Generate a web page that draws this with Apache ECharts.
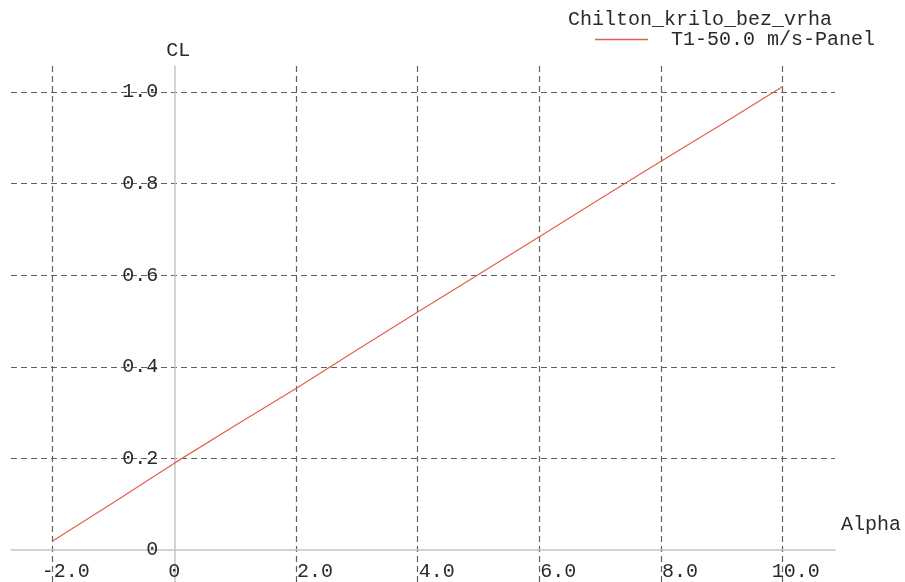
<!DOCTYPE html>
<html>
<head>
<meta charset="utf-8">
<script src="https://cdn.jsdelivr.net/npm/echarts@6/dist/echarts.min.js"></script>
<style>html,body{margin:0;padding:0;background:#fff}#c{width:905px;height:582px}</style>
</head>
<body>
<div id="c"></div>
<script>
var alpha = [-2, -1, 0, 1, 2, 3, 4, 5, 6, 7, 8, 9, 10];
var cl = [0.020, 0.104, 0.190, 0.272, 0.353, 0.437, 0.520, 0.602, 0.684, 0.767, 0.849, 0.930, 1.012];
var xLabelValues = [-2, 0, 2, 4, 6, 8, 10];
var xGridValues = [-2, 2, 4, 6, 8, 10];
var yLabelValues = [0, 0.2, 0.4, 0.6, 0.8, 1.0];
var yGridValues = [0.2, 0.4, 0.6, 0.8, 1.0];
var titleText = 'Chilton_krilo_bez_vrha';
var seriesName = 'T1-50.0 m/s-Panel';

var FONT = '"Liberation Mono", "DejaVu Sans Mono", monospace';
var TXT = '#2a2a2a';
var GRID = {left: 11, right: 70, top: 66, bottom: 0};
var W = 905, H = 582;
var chart = echarts.init(document.getElementById('c'), null, {renderer: 'canvas'});
function fmt(v) { return v === 0 ? '0' : v.toFixed(1); }
chart.setOption({
  animation: false,
  backgroundColor: '#ffffff',
  title: {
    text: titleText, left: 568, top: 10, padding: 0,
    textStyle: {fontFamily: FONT, fontSize: 20, fontWeight: 'normal', color: TXT}
  },
  legend: {
    left: 595, top: 29.5, padding: 0, itemWidth: 53, itemHeight: 1.5, icon: 'rect',
    data: [seriesName],
    textStyle: {fontFamily: FONT, fontSize: 20, color: TXT, padding: [0, 0, 0, 18]}
  },
  grid: {left: GRID.left, right: GRID.right, top: GRID.top, bottom: GRID.bottom, containLabel: false, outerBoundsMode: 'none'},
  xAxis: {
    type: 'value', min: -2.685, max: 10.86, position: 'bottom',
    name: 'Alpha', nameLocation: 'end', nameGap: 6,
    nameTextStyle: {fontFamily: FONT, fontSize: 20, color: TXT, lineHeight: 50, verticalAlign: 'bottom', align: 'left'},
    axisLine: {show: true, onZero: false, lineStyle: {color: '#c4c4c4', width: 1.5}},
    axisTick: {show: false, customValues: xGridValues},
    axisLabel: {customValues: xLabelValues, margin: 12, fontFamily: FONT, fontSize: 20, color: TXT,
      align: 'right', padding: [0, -37, 0, 0],
      formatter: function (v) { return v === 0 ? '{z|0}' : fmt(v); },
      rich: {z: {fontFamily: FONT, fontSize: 20, color: TXT, padding: [0, 31, 0, 0]}}},
    splitLine: {show: true, lineStyle: {color: '#606060', width: 1.2, type: [6, 4]}}
  },
  yAxis: {
    type: 'value', min: -0.0695, max: 1.057, position: 'left',
    name: 'CL', nameLocation: 'end', nameGap: 5,
    nameTextStyle: {fontFamily: FONT, fontSize: 20, color: TXT, padding: [0, 0, 0, 8]},
    axisLine: {show: true, onZero: false, lineStyle: {color: '#c4c4c4', width: 1.5}},
    axisTick: {show: false, customValues: yGridValues},
    axisLabel: {customValues: yLabelValues, margin: 16, fontFamily: FONT, fontSize: 20, color: TXT,
      formatter: fmt},
    splitLine: {show: true, lineStyle: {color: '#606060', width: 1.2, type: [6, 4]}}
  },
  series: [{
    name: seriesName, type: 'line', symbol: 'none',
    data: alpha.map(function (a, i) { return [a, cl[i]]; }),
    lineStyle: {color: '#e2604c', width: 1.2},
    itemStyle: {color: '#e2604c'}
  }]
});
// place both axes on the other axis's zero, using the chart's own scales
var x0 = chart.convertToPixel({xAxisIndex: 0}, 0);
var y0 = chart.convertToPixel({yAxisIndex: 0}, 0);
chart.setOption({
  yAxis: {offset: -(x0 - GRID.left)},
  xAxis: {offset: -((H - GRID.bottom) - y0)}
});
</script>
</body>
</html>
